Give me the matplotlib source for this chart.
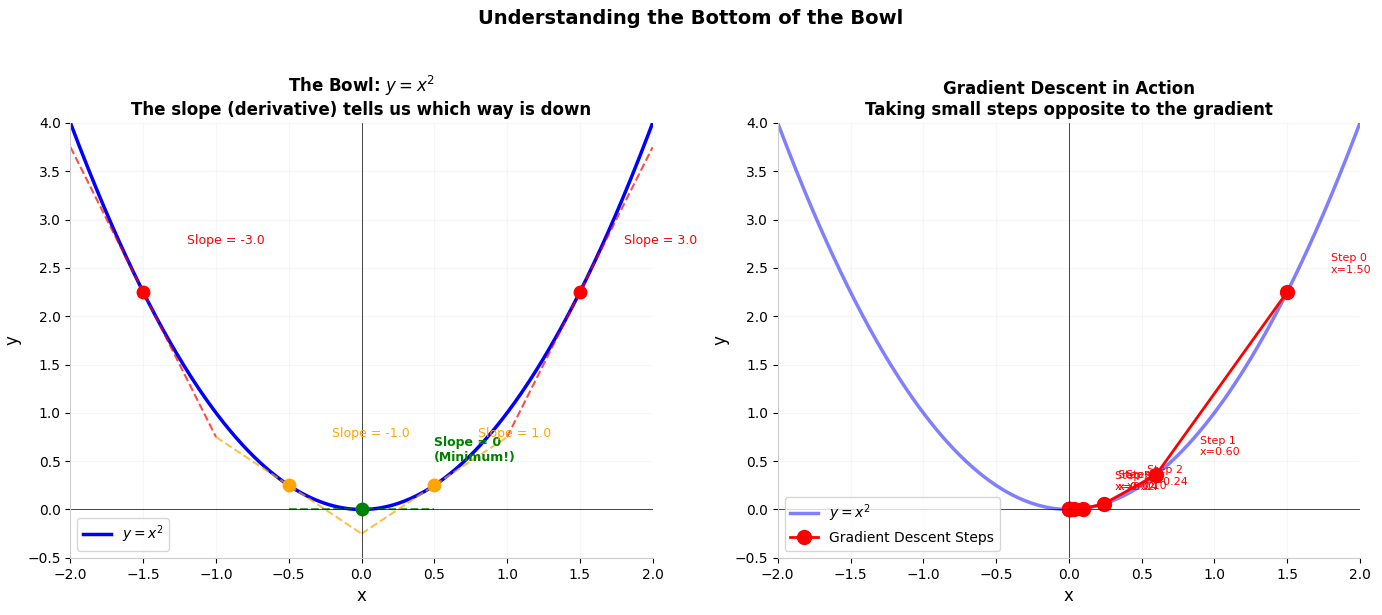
import matplotlib.pyplot as plt
import numpy as np

# data
tangent_points = [-1.5, -0.5, 0.0, 0.5, 1.5]
tangent_colors = ['red', 'orange', 'green', 'orange', 'red']
start_x = 1.5
learning_rate = 0.3
n_steps = 10
n_labeled = 6

x = np.linspace(-2, 2, 400)
y = x ** 2

fig, (ax1, ax2) = plt.subplots(1, 2, figsize=(13.82, 6.15), dpi=100)

# left: the bowl and tangent lines
ax1.plot(x, y, 'b-', linewidth=2.5, label='$y = x^2$')
for x0, c in zip(tangent_points, tangent_colors):
    y0 = x0 ** 2
    slope = 2 * x0
    xt = np.linspace(x0 - 0.5, x0 + 0.5, 10)
    yt = y0 + slope * (xt - x0)
    ax1.plot(xt, yt, '--', color=c, alpha=0.7, linewidth=1.5)
    ax1.plot(x0, y0, 'o', color=c, markersize=9, zorder=5)
    if x0 == 0:
        ax1.text(x0 + 0.5, y0 + 0.5, 'Slope = 0\n(Minimum!)', fontsize=9,
                 color='green', fontweight='bold')
    else:
        ax1.text(x0 + 0.3, y0 + 0.5, f'Slope = {slope:.1f}', fontsize=9,
                 color=c)

ax1.axhline(0, color='black', linewidth=0.5)
ax1.axvline(0, color='black', linewidth=0.5)
ax1.set_xlim(-2, 2)
ax1.set_ylim(-0.5, 4)
ax1.set_xlabel('x', fontsize=12)
ax1.set_ylabel('y', fontsize=12)
ax1.set_title('The Bowl: $y = x^2$\nThe slope (derivative) tells us which way is down',
              fontsize=12, fontweight='bold')
ax1.legend(loc='lower left')

# right: gradient descent
xs = [start_x]
for i in range(n_steps):
    xs.append(xs[-1] - learning_rate * 2 * xs[-1])
xs = np.array(xs)
ys = xs ** 2

ax2.plot(x, y, 'b-', linewidth=2.5, alpha=0.5, label='$y = x^2$')
ax2.plot(xs, ys, 'ro-', markersize=10, linewidth=2, label='Gradient Descent Steps')
for i in range(n_labeled):
    ax2.text(xs[i] + 0.3, ys[i] + 0.2, f'Step {i}\nx={xs[i]:.2f}', fontsize=8,
             color='red')

ax2.axhline(0, color='black', linewidth=0.5)
ax2.axvline(0, color='black', linewidth=0.5)
ax2.set_xlim(-2, 2)
ax2.set_ylim(-0.5, 4)
ax2.set_xlabel('x', fontsize=12)
ax2.set_ylabel('y', fontsize=12)
ax2.set_title('Gradient Descent in Action\nTaking small steps opposite to the gradient',
              fontsize=12, fontweight='bold')
ax2.legend(loc='lower left')

for ax in (ax1, ax2):
    ax.grid(True, alpha=0.1)
    ax.spines['top'].set_visible(False)
    ax.spines['right'].set_visible(False)
    ax.spines['left'].set_color('#cccccc')
    ax.spines['bottom'].set_color('#cccccc')

fig.suptitle('Understanding the Bottom of the Bowl', fontsize=14, fontweight='bold', y=0.985)
plt.subplots_adjust(left=0.051, right=0.984, top=0.8, bottom=0.093, wspace=0.215)
plt.savefig('out.png')
